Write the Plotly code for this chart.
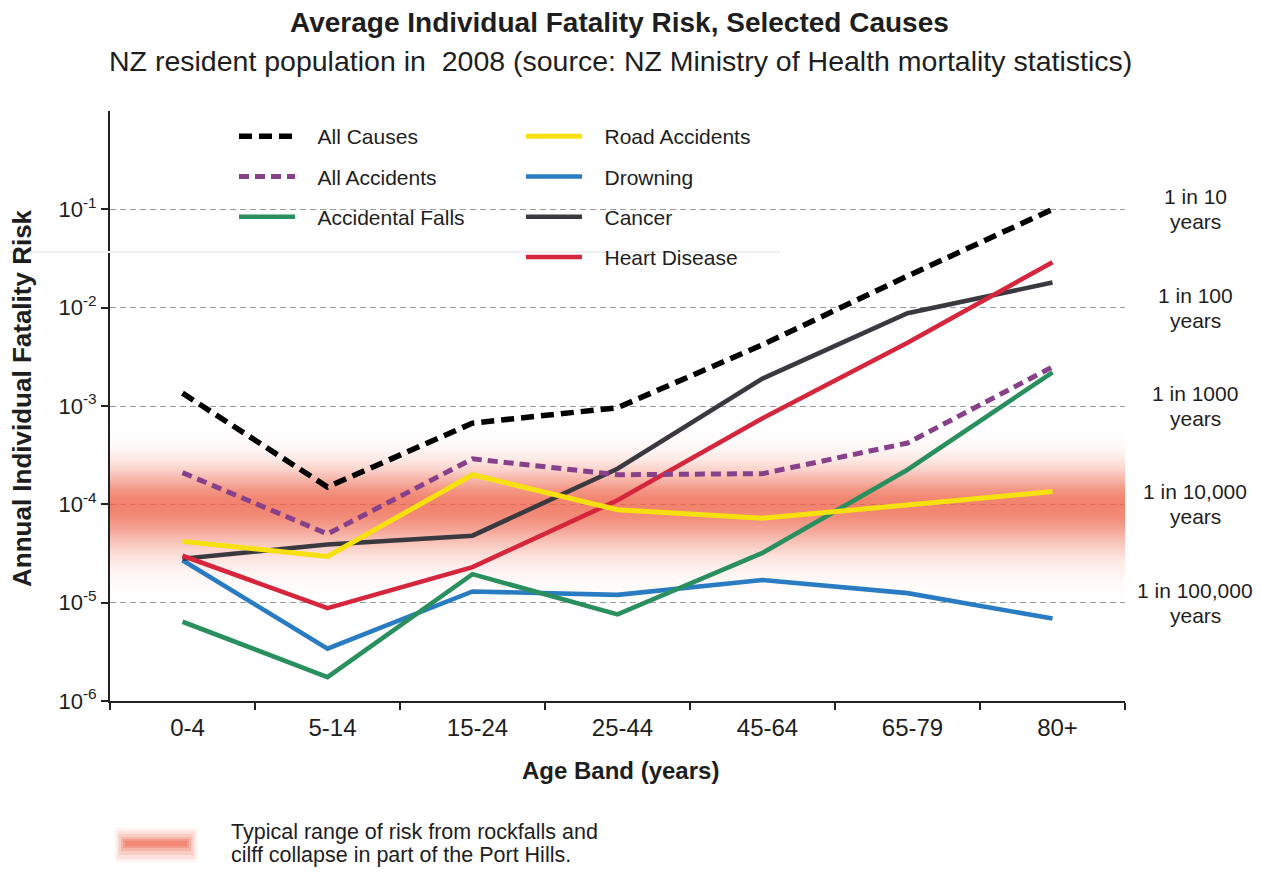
import numpy as np
import plotly.graph_objects as go

# ---------------- data ----------------
age_bands = ["0-4", "5-14", "15-24", "25-44", "45-64", "65-79", "80+"]

all_causes = [1.35e-3, 1.5e-4, 6.7e-4, 9.6e-4, 4.2e-3, 2.1e-2, 1.0e-1]
all_accidents = [2.1e-4, 5.0e-5, 2.9e-4, 2.0e-4, 2.05e-4, 4.2e-4, 2.5e-3]
accidental_falls = [6.4e-6, 1.75e-6, 1.95e-5, 7.6e-6, 3.2e-5, 2.25e-4, 2.2e-3]
road_accidents = [4.2e-5, 2.95e-5, 2.0e-4, 8.8e-5, 7.2e-5, 1.0e-4, 1.35e-4]
drowning = [2.7e-5, 3.4e-6, 1.3e-5, 1.2e-5, 1.7e-5, 1.25e-5, 6.9e-6]
cancer = [2.8e-5, 3.9e-5, 4.8e-5, 2.3e-4, 1.9e-3, 8.8e-3, 1.8e-2]
heart_disease = [3.0e-5, 8.8e-6, 2.3e-5, 1.1e-4, 7.5e-4, 4.4e-3, 2.9e-2]

# rockfall risk band (centre and fade-out limits)
band_center = 1e-4
band_low = 1e-5
band_high = 6e-4

y_tick_vals = [1e-6, 1e-5, 1e-4, 1e-3, 1e-2, 1e-1]
y_tick_text = ["10<sup>-6</sup>", "10<sup>-5</sup>", "10<sup>-4</sup>",
               "10<sup>-3</sup>", "10<sup>-2</sup>", "10<sup>-1</sup>"]

return_levels = [1e-1, 1e-2, 1e-3, 1e-4, 1e-5]
return_first = ["1 in 10", "1 in 100", "1 in 1000", "1 in 10,000", "1 in 100,000"]
return_second = ["years", "years", "years", "years", "years"]

FONT = "Liberation Sans, Arial, Helvetica, sans-serif"
TXT = "#1e1e1e"

# page offset of the plot div (body margin) and plot-area geometry
OFF = 8
W, H = 1261, 873
L = 110 - OFF
R = W - (1125 - OFF)
T = 111 - OFF
B = H - (701 - OFF)
PW = W - L - R
PH = H - T - B


def px(xs):
    """screen x (reference) -> paper x"""
    return (xs - OFF - L) / PW


def py(ys):
    """screen y (reference) -> paper y"""
    return (H - B - (ys - OFF)) / PH


fig = go.Figure()

# ---------------- gradient band ----------------
lc, ll, lh = np.log10(band_center), np.log10(band_low), np.log10(band_high)
yl = np.linspace(ll, lh, 161)
t = np.where(yl < lc, (lc - yl) / (lc - ll), (yl - lc) / (lh - lc))
alpha = np.exp(-(t / 0.45) ** 2)
z = np.repeat(alpha[:, None], len(age_bands), axis=1)
band_rgb = "238,100,74"
fig.add_trace(go.Heatmap(
    x=age_bands, y=10 ** yl, z=z, zmin=0, zmax=1,
    colorscale=[[0, f"rgba({band_rgb},0)"], [1, f"rgba({band_rgb},0.8)"]],
    showscale=False, hoverinfo="skip", showlegend=False,
))

# ---------------- series ----------------
NB = "\u00a0\u00a0\u00a0"
series = [
    # name, values, color, width, dash, legend, rank
    ("Drowning", drowning, "#2a7cc2", 4.6, "solid", "legend2", 2),
    ("Accidental Falls", accidental_falls, "#2a8f5e", 4.6, "solid", "legend", 3),
    ("Cancer", cancer, "#3a3940", 4.6, "solid", "legend2", 3),
    ("Heart Disease", heart_disease, "#d6263d", 4.6, "solid", "legend2", 4),
    ("Road Accidents", road_accidents, "#f6e10f", 5, "solid", "legend2", 1),
    ("All Accidents", all_accidents, "#87408a", 5, "10px,6px", "legend", 2),
    ("All Causes", all_causes, "#000000", 5.5, "13px,7px", "legend", 1),
]
for name, vals, color, w, dash, leg, rank in series:
    fig.add_trace(go.Scatter(
        x=age_bands, y=vals, mode="lines", name=NB + name,
        line=dict(color=color, width=w, dash=dash),
        legend=leg, legendgroup=name, legendrank=rank,
    ))

# ---------------- annotations ----------------
ann = []


def note(text, xs, ys, size, bold=False, xanchor="center", angle=0):
    ann.append(dict(text=f"<b>{text}</b>" if bold else text,
                    x=px(xs), y=py(ys), xref="paper", yref="paper",
                    xanchor=xanchor, yanchor="middle", textangle=angle,
                    showarrow=False, font=dict(size=size, color=TXT, family=FONT)))


note("Average Individual Fatality Risk, Selected Causes", 619, 22, 28, bold=True)
note("NZ resident population in  2008 (source: NZ Ministry of Health mortality statistics)",
     620, 61, 28.5)
note("Annual Individual Fatality Risk", 22, 398, 26, bold=True, angle=-90)
note("Age Band (years)", 620, 770, 24, bold=True)
note("Typical range of risk from rockfalls and", 229, 832, 21.5, xanchor="left")
note("cilff collapse in part of the Port Hills.", 229, 855, 21.5, xanchor="left")

for lv, l1, l2 in zip(return_levels, return_first, return_second):
    for txt, shift in ((l1, 12.5), (l2, -12.5)):
        ann.append(dict(text=txt, x=px(1195), y=np.log10(lv), xref="paper", yref="y",
                        xanchor="center", yanchor="middle", yshift=shift,
                        showarrow=False, font=dict(size=21, color=TXT, family=FONT)))

# ---------------- shapes ----------------
shapes = []
# white backdrop behind legend (hides the grid line there)
shapes.append(dict(type="rect", xref="paper", yref="paper", layer="between",
                   x0=px(190), x1=px(785), y0=py(252), y1=py(113),
                   fillcolor="white", line=dict(width=0)))
# faint rule below the legend area
shapes.append(dict(type="line", xref="paper", yref="paper", layer="above",
                   x0=px(0), x1=px(780), y0=py(252), y1=py(252),
                   line=dict(color="#efefef", width=2)))
# bottom legend swatch (soft blob)
for (x0, x1, y0, y1, op) in [(115, 197, 828, 862, 0.08), (117, 195, 831, 859, 0.12),
                             (119, 193, 834, 855, 0.16), (121, 191, 837, 851, 0.22),
                             (123, 189, 839, 848, 0.3), (125, 187, 841, 846, 0.35)]:
    shapes.append(dict(type="rect", xref="paper", yref="paper", layer="above",
                       x0=px(x0), x1=px(x1), y0=py(y1), y1=py(y0),
                       fillcolor=f"rgb({band_rgb})", opacity=op, line=dict(width=0)))

legend_common = dict(
    xanchor="left", yanchor="top", bgcolor="rgba(0,0,0,0)",
    font=dict(size=21, color=TXT, family=FONT),
    itemwidth=56, tracegroupgap=10, traceorder="grouped",
    itemclick=False, itemdoubleclick=False,
)

fig.update_layout(
    width=W, height=H,
    margin=dict(l=L, r=R, t=T, b=B),
    paper_bgcolor="white", plot_bgcolor="white",
    font=dict(family=FONT, color=TXT),
    showlegend=True,
    legend=dict(x=px(234), y=py(116), **legend_common),
    legend2=dict(x=px(521), y=py(116), **legend_common),
    annotations=ann,
    shapes=shapes,
    xaxis=dict(
        type="category", range=[-0.5, 6.5],
        showline=True, linecolor="#222", linewidth=2,
        ticks="outside", tickson="boundaries", ticklen=7, tickwidth=1.5, tickcolor="#222",
        showgrid=False, zeroline=False,
        tickfont=dict(size=24, color=TXT, family=FONT),
        ticklabelstandoff=4, ticklabelshift=5,
    ),
    yaxis=dict(
        type="log", range=[-6, 0],
        tickvals=y_tick_vals, ticktext=y_tick_text,
        showline=True, linecolor="#222", linewidth=2,
        ticks="outside", ticklen=7, tickwidth=1.5, tickcolor="#222",
        showgrid=True, gridcolor="#9a9a9a", gridwidth=1.3, griddash="6px,4px",
        zeroline=False,
        tickfont=dict(size=22, color=TXT, family=FONT),
    ),
)

fig.write_html("out.html")
